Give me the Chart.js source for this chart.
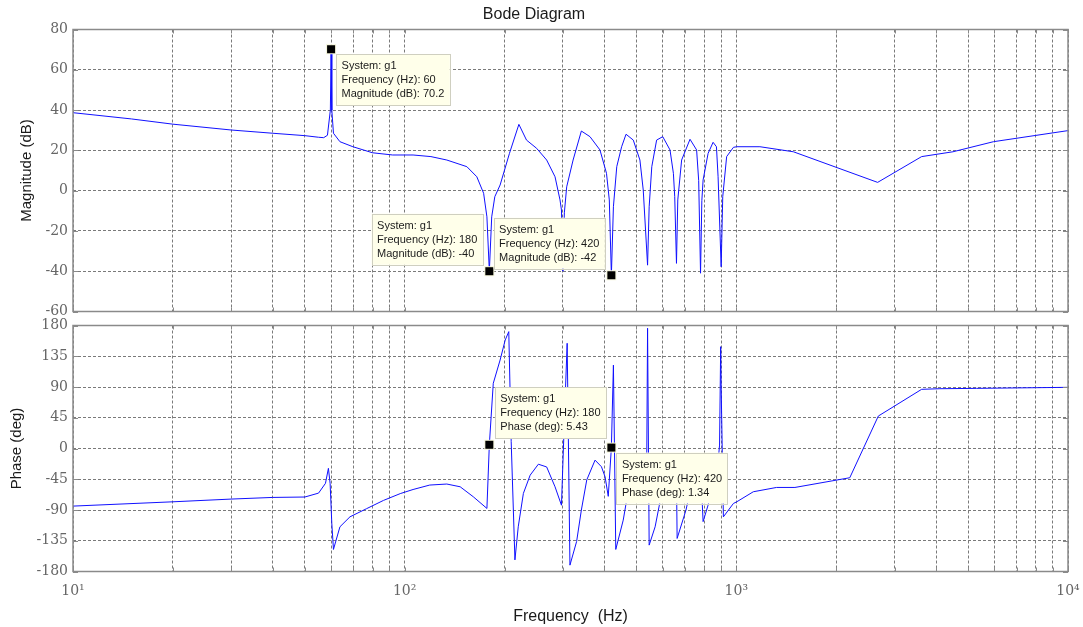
<!DOCTYPE html>
<html>
<head>
<meta charset="utf-8">
<title>Bode Diagram</title>
<script src="https://cdn.jsdelivr.net/npm/chart.js@4.4.1/dist/chart.umd.min.js"></script>
<style>
  html, body { margin: 0; padding: 0; background: #fff; }
  #wrap { position: relative; width: 1083px; height: 627px; }
  #wrap canvas { position: absolute; left: 0; top: 0; }
</style>
</head>
<body>
<div id="wrap">
  <canvas id="magChart" width="1083" height="627"></canvas>
  <canvas id="phaseChart" width="1083" height="627"></canvas>
</div>
<script>
/* Bode plot of g1 - magnitude and phase on a shared log frequency axis */

// ---- magnitude response ----
const magFreq = [10, 15, 20, 30, 40, 50, 55, 57, 58.5, 59.7, 60, 60.3, 61, 63.8, 69.8, 80, 92, 106, 120, 134,
    154, 165, 173, 177, 180, 183, 187, 194, 207, 221, 233, 250, 268, 284, 294, 297, 300, 303, 308, 322,
    341, 362, 388, 406, 414, 420, 426, 436, 451, 465, 489, 512, 524, 540, 546, 556, 575, 600, 631, 646,
    652, 660, 666, 684, 725, 759, 770, 780, 787, 794, 822, 851, 871, 881, 900, 910, 935, 980, 1003, 1178,
    1486, 2667, 3620, 4500, 5960, 10000];
const magDb = [38.7, 35.6, 33.0, 30.1, 28.5, 27.3, 26.5, 26.3, 27.5, 40, 70.2, 40, 28.5, 24.3, 21.8, 18.8, 17.7, 17.7, 16.9, 15.2,
    11.9, 6.9, -1.3, -13, -40, -13, -3, 2.8, 18.5, 32.9, 25.1, 21.0, 15.2, 6.9, -4.6, -9.6, -40, -11, 1.9, 15.2,
    29.6, 26.8, 20.2, 8.6, -4.6, -42, -8, 11.9, 21.8, 28.0, 25.1, 15.2, 0.3, -37, -8, 11.9, 25.1, 26.8, 20.2, 8.6,
    -3, -36.1, -4.6, 15.2, 25.5, 20.2, 5, -41, -5, 5.3, 18.5, 24.0, 21.8, 6.9, -37.8, -3, 16.9, 21.5, 21.8, 21.8,
    19.3, 4.1, 16.9, 19.3, 24.3, 29.8];

// ---- phase response ----
const phaseFreq = [10, 20, 30, 40, 50, 55, 57.7, 58.9, 59.6, 60.3, 61, 63.8, 68.4, 76.8, 86.3, 97, 106, 119, 134, 147,
    161, 177, 180, 185, 194, 201, 206, 209.5, 215, 220, 228, 239, 253, 268, 284, 297, 304, 309, 315, 330,
    341, 354, 375, 392, 402, 411, 420, 426, 433, 456, 467, 495, 525, 536, 540, 546, 569, 586, 612, 645,
    655, 659, 663, 705, 735, 776, 781, 794, 822, 855, 870, 890, 897, 900, 914, 980, 1003, 1125, 1322, 1502,
    2198, 2680, 3620, 4110, 5300, 10000];
const phaseDeg = [-84.3, -78, -74, -71.6, -71, -65.3, -51, -29, -51, -109.6, -147.7, -114.6, -100, -88, -76, -66, -60, -53.5, -52, -56,
    -70.6, -87.7, 5.43, 95.4, 129.5, 158.8, 171, 10, -163, -114.6, -65.7, -39, -23, -27, -56, -83, 60, 154, -170.7, -136,
    -90, -46, -17, -26.7, -41.4, -70, 1.34, 122, -147.7, -104.8, -75.5, -30, -55, -72, 176, -141.4, -114.6, -82.8, -40, -65,
    -75, -15, -131.6, -90.1, -50, -60, -30, -107, -82.8, -45, -50, 5, 149, 90, -100, -80.4, -78, -63.3, -57, -57,
    -42.8, 47.5, 86.6, 87.5, 88, 89.5];

// ---- data tips ----
const magTipFreq = [60, 180, 420];
const magTipDb = [70.2, -40, -42];
const phaseTipFreq = [180, 420];
const phaseTipDeg = [5.43, 1.34];

// ---- axes ----
const xTickValues = [10, 100, 1000, 10000];
const xTickLabels = ['10\u00b9', '10\u00b2', '10\u00b3', '10\u2074'];
const magTicks = [-60, -40, -20, 0, 20, 40, 60, 80];
const phaseTicks = [-180, -135, -90, -45, 0, 45, 90, 135, 180];

// grid lines at 1..9 x each decade
const xGrid = [];
for (let d = 10; d < 10000; d *= 10) {
    for (let k = 1; k < 10; k++) xGrid.push(k * d);
}
xGrid.push(10000);

const LINE_BLUE = '#1010ff';
const FRAME = '#8a8a8a';
const GRID = '#7a7a7a';
const TICK_FONT = { family: '"DejaVu Serif", serif', size: 14 };
const LABEL_FONT = { family: '"Liberation Sans", Arial, sans-serif', size: 15 };

function points(xs, ys) {
    return xs.map((x, i) => ({ x: x, y: ys[i] }));
}

function drawTip(ctx, px, py, lines, place) {
    ctx.font = '11px "Liberation Sans", Arial, sans-serif';
    const w = Math.max(...lines.map(t => ctx.measureText(t).width)) + 11;
    const h = 51;
    let bx, by;
    if (place === 'se') { bx = px + 5; by = py + 5; }
    else if (place === 'ne') { bx = px + 5.5; by = py - 6.5 - h; }
    else { bx = px - 6.5 - w; by = py - 6.5 - h; }

    ctx.fillStyle = '#ffffea';
    ctx.fillRect(bx, by, w, h);
    ctx.strokeStyle = '#cfcfc0';
    ctx.lineWidth = 1;
    ctx.strokeRect(Math.round(bx) + 0.5, Math.round(by) + 0.5, Math.round(w), Math.round(h));

    ctx.fillStyle = '#1a1a1a';
    ctx.textAlign = 'left';
    ctx.textBaseline = 'middle';
    lines.forEach((t, i) => ctx.fillText(t, bx + 5.5, by + 12 + i * 14));

    // marker square
    ctx.fillStyle = '#f4f4d8';
    ctx.fillRect(px - 5, py - 5, 10, 10);
    ctx.fillStyle = '#000';
    ctx.fillRect(px - 4, py - 4, 8, 8);
}

// frame, inward tick marks and data tips
const bodeFrame = {
    id: 'bodeFrame',
    afterDatasetsDraw(chart, args, opts) {
        const { ctx, chartArea: a, scales } = chart;
        ctx.save();
        ctx.strokeStyle = FRAME;
        ctx.lineWidth = 1;
        ctx.beginPath();
        scales.x.ticks.forEach(t => {
            const px = Math.round(scales.x.getPixelForValue(t.value)) + 0.5;
            ctx.moveTo(px, a.top); ctx.lineTo(px, a.top + 4);
            ctx.moveTo(px, a.bottom); ctx.lineTo(px, a.bottom - 4);
        });
        scales.y.ticks.forEach(t => {
            const py = Math.round(scales.y.getPixelForValue(t.value)) + 0.5;
            ctx.moveTo(a.left, py); ctx.lineTo(a.left + 5, py);
            ctx.moveTo(a.right, py); ctx.lineTo(a.right - 5, py);
        });
        ctx.stroke();
        ctx.lineWidth = 1.5;
        ctx.strokeRect(a.left, a.top, a.right - a.left, a.bottom - a.top);

        (opts.tips || []).forEach(tip => {
            const px = scales.x.getPixelForValue(tip.x);
            const py = scales.y.getPixelForValue(tip.y);
            drawTip(ctx, px, py, tip.lines, tip.place);
        });
        ctx.restore();
    }
};

function xScale(showLabels) {
    return {
        type: 'logarithmic',
        min: 10,
        max: 10000,
        afterBuildTicks: scale => { scale.ticks = xGrid.map(v => ({ value: v })); },
        afterFit: scale => {
            scale.height = showLabels ? 55.5 : 0;
            // keep end labels from shrinking the plot area
            scale.paddingLeft = 0;
            scale.paddingRight = 0;
        },
        grid: { color: GRID, lineWidth: 1, drawTicks: false },
        border: { display: false, dash: [3, 2] },
        ticks: {
            display: showLabels,
            autoSkip: false,
            maxRotation: 0,
            padding: 11,
            color: '#666',
            font: TICK_FONT,
            callback: v => {
                const i = xTickValues.indexOf(v);
                return i >= 0 ? xTickLabels[i] : '';
            }
        },
        title: {
            display: showLabels,
            text: 'Frequency  (Hz)',
            color: '#1a1a1a',
            font: { family: LABEL_FONT.family, size: 16 },
            padding: { top: 0, bottom: 0.5 }
        }
    };
}

function yScale(tickValues, title, titlePad) {
    return {
        min: tickValues[0],
        max: tickValues[tickValues.length - 1],
        afterBuildTicks: scale => { scale.ticks = tickValues.map(v => ({ value: v })); },
        afterFit: scale => {
            scale.width = 73;
            scale.paddingTop = 0;
            scale.paddingBottom = 0;
        },
        grid: { color: GRID, lineWidth: 1, drawTicks: false },
        border: { display: false, dash: [3, 2] },
        ticks: { padding: 5, color: '#666', font: TICK_FONT },
        title: {
            display: true,
            text: title,
            color: '#1a1a1a',
            font: LABEL_FONT,
            padding: { top: titlePad, bottom: 0 }
        }
    };
}

const common = {
    responsive: false,
    animation: false,
    devicePixelRatio: 1,
    events: [],
    elements: { point: { radius: 0 }, line: { tension: 0 } }
};

new Chart(document.getElementById('magChart'), {
    type: 'line',
    data: {
        datasets: [{
            label: 'g1',
            data: points(magFreq, magDb),
            borderColor: LINE_BLUE,
            borderWidth: 1
        }]
    },
    options: Object.assign({}, common, {
        layout: { padding: { left: 0, right: 15, top: 0, bottom: 315.5 } },
        scales: {
            x: xScale(false),
            y: yScale(magTicks, 'Magnitude (dB)', 18)
        },
        plugins: {
            legend: { display: false },
            tooltip: { enabled: false },
            title: {
                display: true,
                text: 'Bode Diagram',
                color: '#1a1a1a',
                font: { family: LABEL_FONT.family, size: 16, weight: 'normal' },
                padding: { top: 5.4, bottom: 4.9 }
            },
            bodeFrame: {
                tips: magTipFreq.map((f, i) => ({
                    x: f,
                    y: magTipDb[i],
                    place: i === 0 ? 'se' : 'nw',
                    lines: ['System: g1', 'Frequency (Hz): ' + f, 'Magnitude (dB): ' + magTipDb[i]]
                }))
            }
        }
    }),
    plugins: [bodeFrame]
});

new Chart(document.getElementById('phaseChart'), {
    type: 'line',
    data: {
        datasets: [{
            label: 'g1',
            data: points(phaseFreq, phaseDeg),
            borderColor: LINE_BLUE,
            borderWidth: 1
        }]
    },
    options: Object.assign({}, common, {
        layout: { padding: { left: 0, right: 15, top: 325.5, bottom: 0 } },
        scales: {
            x: xScale(true),
            y: yScale(phaseTicks, 'Phase (deg)', 8)
        },
        plugins: {
            legend: { display: false },
            tooltip: { enabled: false },
            bodeFrame: {
                tips: phaseTipFreq.map((f, i) => ({
                    x: f,
                    y: phaseTipDeg[i],
                    place: i === 0 ? 'ne' : 'se',
                    lines: ['System: g1', 'Frequency (Hz): ' + f, 'Phase (deg): ' + phaseTipDeg[i]]
                }))
            }
        }
    }),
    plugins: [bodeFrame]
});
</script>
</body>
</html>
